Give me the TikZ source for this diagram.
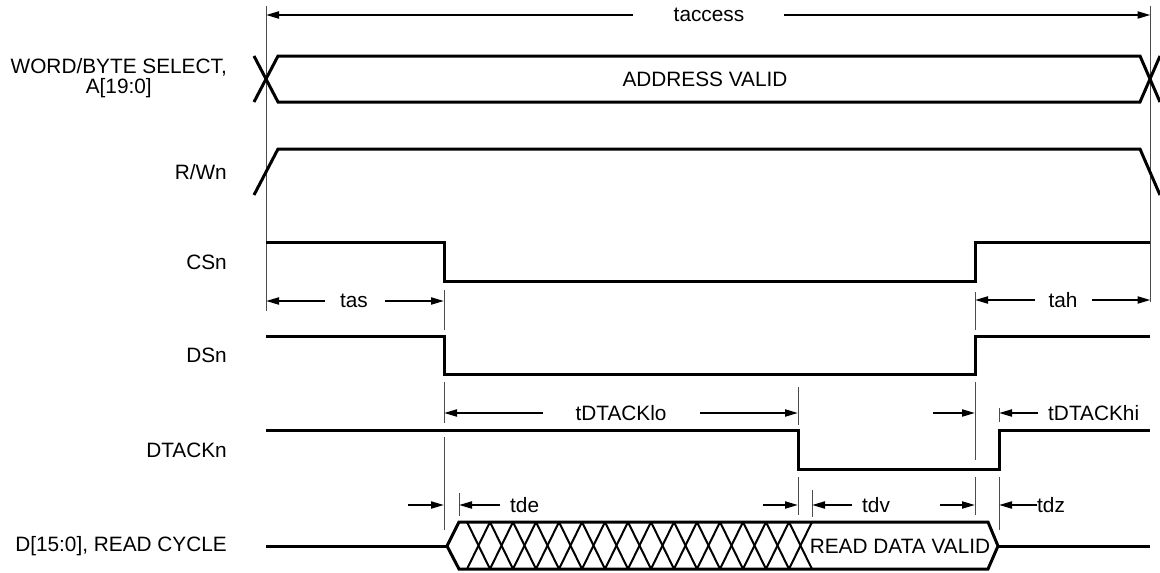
\documentclass[tikz,border=0pt]{standalone}
\usepackage{fontspec}
\setmainfont{Liberation Sans}
\usetikzlibrary{arrows.meta}
\begin{document}
\begin{tikzpicture}[x=1pt,y=-1pt,
  font=\fontsize{20.8}{19.5}\selectfont,
  sig/.style={line width=3pt},
  hatch/.style={line width=2pt},
  refline/.style={line width=1pt, black!70},
  dim/.style={line width=2pt, -{Triangle[length=13pt,width=7pt]}},
  lbl/.style={anchor=east, inner sep=0pt},
  txt/.style={inner sep=0pt},
  txtw/.style={inner sep=0pt, anchor=west}]
\useasboundingbox (0,0) rectangle (1160,573);

% time references
\coordinate (T0) at (266,0);
\coordinate (T1) at (444,0);
\coordinate (T2) at (798,0);
\coordinate (T3) at (975,0);
\coordinate (T4) at (999,0);
\coordinate (T5) at (1150.5,0);
\coordinate (Tde) at (459,0);
\coordinate (Tdv) at (812,0);

% signal labels
\node[lbl, align=center] (lwb) at (227,78) {WORD/BYTE SELECT,\\A[19:0]};
\node[lbl] (lrw) at (227,172) {R/Wn};
\node[lbl] (lcs) at (227,262) {CSn};
\node[lbl] (lds) at (227,355) {DSn};
\node[lbl] (ldt) at (227,450) {DTACKn};
\node[lbl] (ldd) at (227,546) {D[15:0], READ CYCLE};

% reference lines
\draw[refline] (266,6) -- (266,311);
\draw[refline] (1150.5,6) -- (1150.5,302);
\draw[refline] (444,290) -- (444,330);
\draw[refline] (444,382) -- (444,423);
\draw[refline] (444,437) -- (444,530);
\draw[refline] (975,292) -- (975,330);
\draw[refline] (975,382) -- (975,460);
\draw[refline] (975,477) -- (975,515);
\draw[refline] (798,387) -- (798,425);
\draw[refline] (798,477) -- (798,515);
\draw[refline] (999,408) -- (999,422);
\draw[refline] (999,477) -- (999,530);
\draw[refline] (459,493) -- (459,516);
\draw[refline] (812,490) -- (812,517);

% address bus
\draw[sig] (254,102) -- (278,56) -- (1140,56) -- (1160,102);
\draw[sig] (254,56) -- (278,102) -- (1140,102) -- (1160,56);
\node[txt] (addr) at (705,79) {ADDRESS VALID};

% R/Wn
\draw[sig] (254,195) -- (278,149) -- (1140,149) -- (1160,195);

% CSn
\draw[sig] (266,242) -- (444,242) -- (444,281) -- (975,281) -- (975,242) -- (1150,242);
% DSn
\draw[sig] (266,336) -- (444,336) -- (444,374) -- (975,374) -- (975,336) -- (1150,336);
% DTACKn
\draw[sig] (266,430) -- (798,430) -- (798,469) -- (999,469) -- (999,430) -- (1150,430);

% data bus
\draw[sig] (266,546) -- (447,546);
\draw[sig] (447,546) -- (459,522) -- (988,522) -- (998,546) -- (988,569) -- (459,569) -- cycle;
\draw[sig] (998,546) -- (1150,546);
\foreach \i in {0,...,14}{
  \draw[hatch] ({467+23*\i},522) -- ({490+23*\i},569);
  \draw[hatch] ({467+23*\i},569) -- ({490+23*\i},522);
}
\node[txt] (rdv) at (900,546) {READ DATA VALID};

% taccess
\node[txt] (tacc) at (709,15) {taccess};
\draw[dim] (633,15) -- (T0 |- tacc);
\draw[dim] (784,15) -- (T5 |- tacc);

% tas / tah
\node[txt] (tas) at (354,301) {tas};
\draw[dim] (325,301) -- (T0 |- tas);
\draw[dim] (385,301) -- (T1 |- tas);
\node[txt] (tah) at (1063,300) {tah};
\draw[dim] (1035,300) -- (T3 |- tah);
\draw[dim] (1092,300) -- (T5 |- tah);

% tDTACKlo / tDTACKhi
\node[txt] (tlo) at (621,413) {tDTACKlo};
\draw[dim] (543,413) -- (T1 |- tlo);
\draw[dim] (700,413) -- (T2 |- tlo);
\node[txtw] (thi) at (1048,413) {tDTACKhi};
\draw[dim] (933,413) -- (T3 |- thi);
\draw[dim] (1038,413) -- (T4 |- thi);

% tde / tdv / tdz
\node[txtw] (tde) at (510,505) {tde};
\draw[dim] (408,505) -- (T1 |- tde);
\draw[dim] (500,505) -- (Tde |- tde);
\draw[dim] (763,505) -- (T2 |- tde);
\node[txtw] (tdv) at (862,505) {tdv};
\draw[dim] (852,505) -- (Tdv |- tdv);
\draw[dim] (940,505) -- (T3 |- tdv);
\node[txtw] (tdz) at (1037,505) {tdz};
\draw[dim] (tdz.west) -- (T4 |- tdz);
\end{tikzpicture}
\end{document}
